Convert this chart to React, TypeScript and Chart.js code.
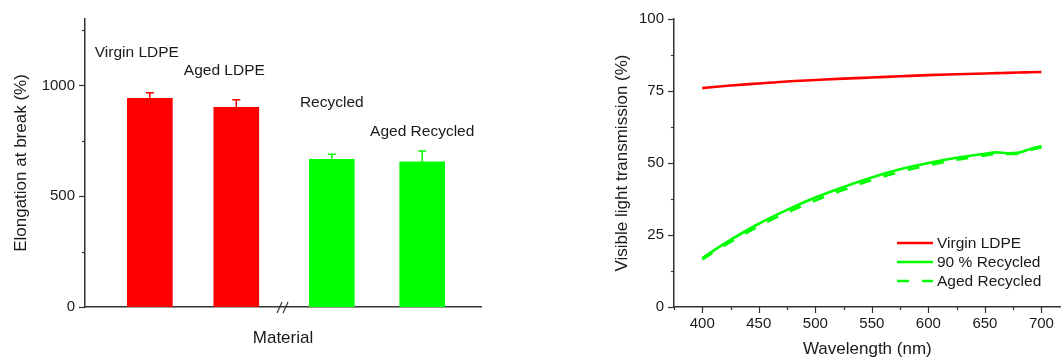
import React, { useEffect, useRef } from "react";
import { Chart, registerables } from "chart.js";

Chart.register(...registerables);

const FONT = "'Liberation Sans', Arial, sans-serif";
const AXIS = "#333333";
const TEXT = "#1a1a1a";
const RED = "#ff0000";
const GREEN = "#00ff00";

// ---- Left chart data ----
const materials = ["Virgin LDPE", "Aged LDPE", "Recycled", "Aged Recycled"];
const barPositions = [1, 2, 3.104, 4.15];
const elongation = [942, 901, 667, 655];
const elongationErr = [25, 35, 23, 49];
const barColors = [RED, RED, GREEN, GREEN];
const labelValueY = [1150, 1065, 922, 793];
const labelShiftPx = [-13, -12, 0, 0];
const elongTicks = [0, 250, 500, 750, 1000, 1250];

// ---- Right chart data ----
const wavelengths = [400, 410, 425, 450, 475, 500, 525, 550, 575, 600, 625, 650, 660, 670, 680, 690, 700];
const virginLDPE = [76.0, 76.4, 76.9, 77.6, 78.3, 78.8, 79.3, 79.7, 80.1, 80.5, 80.8, 81.1, 81.2, 81.3, 81.4, 81.5, 81.6];
const recycled90 = [17.0, 19.6, 23.3, 28.9, 33.7, 38.0, 41.7, 45.0, 47.8, 50.0, 51.8, 53.2, 53.7, 53.4, 53.6, 54.9, 55.9];
const agedRecycled = [16.5, 19.0, 22.6, 28.1, 32.8, 37.0, 40.7, 44.1, 46.9, 49.2, 51.1, 52.6, 53.1, 53.1, 53.2, 54.5, 55.4];
const wlTicks = [375, 400, 425, 450, 475, 500, 525, 550, 575, 600, 625, 650, 675, 700];
const transTicks = [0, 12.5, 25, 37.5, 50, 62.5, 75, 87.5, 100];

const tickMarks = {
  id: "tickMarks",
  afterDraw(chart: any, _a: any, opts: any) {
    const ctx = chart.ctx;
    ctx.save();
    ctx.strokeStyle = AXIS;
    ctx.lineWidth = 1.2;
    for (const spec of opts.specs || []) {
      const scale = chart.scales[spec.id];
      for (const t of scale.ticks) {
        const major = Math.abs(t.value / spec.majorStep - Math.round(t.value / spec.majorStep)) < 1e-6;
        const len = major ? spec.major : spec.minor;
        const p = Math.round(scale.getPixelForValue(t.value)) + 0.5;
        ctx.beginPath();
        if (scale.isHorizontal()) {
          const y = chart.chartArea.bottom;
          ctx.moveTo(p, y);
          ctx.lineTo(p, y + len);
        } else {
          const x = chart.chartArea.left;
          ctx.moveTo(x, p);
          ctx.lineTo(x - len, p);
        }
        ctx.stroke();
      }
    }
    ctx.restore();
  },
};

const barExtras = {
  id: "barExtras",
  afterDatasetsDraw(chart: any) {
    const ctx = chart.ctx;
    const meta = chart.getDatasetMeta(0);
    const y = chart.scales.y;
    ctx.save();
    // error bars
    meta.data.forEach((bar: any, i: number) => {
      const top = y.getPixelForValue(elongation[i] + elongationErr[i]);
      const base = y.getPixelForValue(elongation[i]);
      ctx.strokeStyle = barColors[i];
      ctx.lineWidth = 1.5;
      ctx.beginPath();
      ctx.moveTo(bar.x, base);
      ctx.lineTo(bar.x, top);
      ctx.moveTo(bar.x - 4, top);
      ctx.lineTo(bar.x + 4, top);
      ctx.stroke();
    });
    // labels
    ctx.fillStyle = TEXT;
    ctx.font = `15.5px ${FONT}`;
    ctx.textAlign = "center";
    ctx.textBaseline = "middle";
    meta.data.forEach((bar: any, i: number) => {
      ctx.fillText(materials[i], bar.x + labelShiftPx[i], y.getPixelForValue(labelValueY[i]));
    });
    // axis break mark
    const bx = (meta.data[1].x + meta.data[2].x) / 2 - 1;
    const by = chart.chartArea.bottom;
    ctx.strokeStyle = AXIS;
    ctx.lineWidth = 1.2;
    ctx.beginPath();
    ctx.moveTo(bx - 6, by + 6);
    ctx.lineTo(bx - 1, by - 5);
    ctx.moveTo(bx, by + 6);
    ctx.lineTo(bx + 5, by - 5);
    ctx.stroke();
    ctx.restore();
  },
};

const lineLegend = {
  id: "lineLegend",
  afterDraw(chart: any) {
    const ctx = chart.ctx;
    const { left, top } = chart.chartArea;
    ctx.save();
    ctx.font = `15.5px ${FONT}`;
    ctx.textBaseline = "middle";
    ctx.textAlign = "left";
    chart.data.datasets.forEach((ds: any, i: number) => {
      const yy = top + 224 + i * 19;
      const x0 = left + 223;
      ctx.strokeStyle = ds.borderColor;
      ctx.lineWidth = 2.6;
      ctx.setLineDash(ds.borderDash || []);
      ctx.beginPath();
      ctx.moveTo(x0, yy);
      ctx.lineTo(x0 + 36, yy);
      ctx.stroke();
      ctx.setLineDash([]);
      ctx.fillStyle = TEXT;
      ctx.fillText(ds.label, x0 + 40, yy + 1);
    });
    ctx.restore();
  },
};

function LeftChart() {
  const ref = useRef<HTMLCanvasElement | null>(null);
  useEffect(() => {
    const chart = new Chart(ref.current as HTMLCanvasElement, {
      type: "bar",
      data: {
        datasets: [
          {
            label: "Elongation",
            data: barPositions.map((x, i) => ({ x, y: elongation[i] })) as any,
            backgroundColor: barColors,
            barThickness: 45,
          },
        ],
      },
      options: {
        animation: false,
        responsive: false,
        layout: { padding: { left: 0, top: 15, right: 19, bottom: 0 } },
        plugins: {
          legend: { display: false },
          tooltip: { enabled: false },
          tickMarks: { specs: [{ id: "y", majorStep: 500, major: 6, minor: 3 }] },
        } as any,
        scales: {
          x: {
            type: "linear",
            offset: false,
            min: 0.25,
            max: 4.83,
            grid: { display: false, drawTicks: false, offset: false },
            border: { display: true, color: AXIS, width: 1.5 },
            ticks: { display: false },
            title: { display: true, text: "Material", color: TEXT, font: { size: 17, family: FONT }, padding: { top: 0, bottom: 12 } },
            afterFit: (s: any) => { s.height = 54; },
          },
          y: {
            min: 0,
            max: 1300,
            afterBuildTicks: (s: any) => { s.ticks = elongTicks.map((v) => ({ value: v })); },
            grid: { display: false, drawTicks: false },
            border: { display: true, color: AXIS, width: 1.5 },
            ticks: {
              padding: 10,
              color: TEXT,
              font: { size: 15, family: FONT },
              callback: (v: any) => (Number(v) % 500 === 0 ? String(v) : ""),
            },
            title: { display: true, text: "Elongation at break (%)", color: TEXT, font: { size: 17, family: FONT }, padding: { top: 11, bottom: 0 } },
            afterFit: (s: any) => { s.width = 85; },
          },
        },
      } as any,
      plugins: [tickMarks, barExtras],
    });
    return () => chart.destroy();
  }, []);
  return <canvas ref={ref} width={500} height={361} style={{ position: "absolute", left: 0, top: 0 }} />;
}

function RightChart() {
  const ref = useRef<HTMLCanvasElement | null>(null);
  useEffect(() => {
    const mk = (arr: number[]) => wavelengths.map((x, i) => ({ x, y: arr[i] }));
    const chart = new Chart(ref.current as HTMLCanvasElement, {
      type: "line",
      data: {
        datasets: [
          { label: "Virgin LDPE", data: mk(virginLDPE) as any, borderColor: RED, borderWidth: 2.6, pointRadius: 0, cubicInterpolationMode: "monotone" },
          { label: "90 % Recycled", data: mk(recycled90) as any, borderColor: GREEN, borderWidth: 2.6, pointRadius: 0, cubicInterpolationMode: "monotone" },
          { label: "Aged Recycled", data: mk(agedRecycled) as any, borderColor: GREEN, borderWidth: 2.6, borderDash: [12, 13], pointRadius: 0, cubicInterpolationMode: "monotone" },
        ],
      },
      options: {
        animation: false,
        responsive: false,
        layout: { padding: { left: 0, top: 15, right: 1, bottom: 0 } },
        plugins: {
          legend: { display: false },
          tooltip: { enabled: false },
          tickMarks: {
            specs: [
              { id: "y", majorStep: 25, major: 6, minor: 3 },
              { id: "x", majorStep: 50, major: 6, minor: 3 },
            ],
          },
        } as any,
        scales: {
          x: {
            type: "linear",
            min: 375,
            max: 717,
            afterBuildTicks: (s: any) => { s.ticks = wlTicks.map((v) => ({ value: v })); },
            grid: { display: false, drawTicks: false },
            border: { display: true, color: AXIS, width: 1.5 },
            ticks: {
              padding: 8,
              color: TEXT,
              font: { size: 15, family: FONT },
              maxRotation: 0,
              autoSkip: false,
              callback: (v: any) => (Number(v) % 50 === 0 ? String(v) : ""),
            },
            title: { display: true, text: "Wavelength (nm)", color: TEXT, font: { size: 17, family: FONT }, padding: { top: 0, bottom: 1 } },
            afterFit: (s: any) => { s.height = 54; },
          },
          y: {
            min: 0,
            max: 100,
            afterBuildTicks: (s: any) => { s.ticks = transTicks.map((v) => ({ value: v })); },
            grid: { display: false, drawTicks: false },
            border: { display: true, color: AXIS, width: 1.5 },
            ticks: {
              padding: 10,
              color: TEXT,
              font: { size: 15, family: FONT },
              autoSkip: false,
              callback: (v: any) => (Number(v) % 25 === 0 ? String(v) : ""),
            },
            title: { display: true, text: "Visible light transmission (%)", color: TEXT, font: { size: 17, family: FONT }, padding: { top: 32, bottom: 0 } },
            afterFit: (s: any) => { s.width = 94; },
          },
        },
      } as any,
      plugins: [tickMarks, lineLegend],
    });
    return () => chart.destroy();
  }, []);
  return <canvas ref={ref} width={482} height={361} style={{ position: "absolute", left: 580, top: 0 }} />;
}

export default function App() {
  return (
    <div style={{ position: "fixed", left: 0, top: 0, width: 1062, height: 361, background: "#fff", overflow: "hidden" }}>
      <LeftChart />
      <RightChart />
    </div>
  );
}
